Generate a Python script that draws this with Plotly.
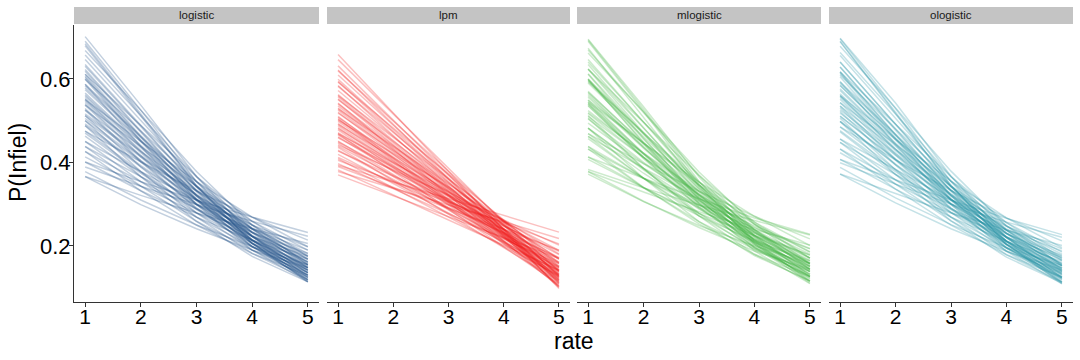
import plotly.graph_objects as go

# ---------------- data ----------------
rates = [1, 2, 3, 4, 5]
lpm_rates = [1, 5]
models = ["logistic", "lpm", "mlogistic", "ologistic"]
y_ticks = [0.2, 0.4, 0.6]
y_ticklabels = ["0.2", "0.4", "0.6"]

# P(Infiel) at rate 1..5 for each posterior draw
logistic_draws = [
    [0.401, 0.354, 0.310, 0.269, 0.232], [0.389, 0.343, 0.299, 0.259, 0.223],
    [0.366, 0.321, 0.279, 0.241, 0.206], [0.475, 0.401, 0.332, 0.269, 0.214],
    [0.450, 0.378, 0.310, 0.250, 0.198], [0.438, 0.366, 0.299, 0.241, 0.190],
    [0.426, 0.354, 0.289, 0.232, 0.182], [0.413, 0.343, 0.279, 0.223, 0.175],
    [0.401, 0.332, 0.269, 0.214, 0.168], [0.378, 0.310, 0.250, 0.198, 0.155],
    [0.366, 0.299, 0.241, 0.190, 0.148], [0.550, 0.450, 0.354, 0.269, 0.198],
    [0.537, 0.438, 0.343, 0.259, 0.190], [0.525, 0.426, 0.332, 0.250, 0.182],
    [0.512, 0.413, 0.321, 0.241, 0.175], [0.500, 0.401, 0.310, 0.232, 0.168],
    [0.505, 0.404, 0.312, 0.234, 0.170], [0.488, 0.389, 0.299, 0.223, 0.161],
    [0.492, 0.392, 0.301, 0.225, 0.163], [0.475, 0.378, 0.289, 0.214, 0.155],
    [0.470, 0.374, 0.287, 0.212, 0.153], [0.463, 0.366, 0.279, 0.206, 0.148],
    [0.450, 0.354, 0.269, 0.198, 0.142], [0.438, 0.343, 0.259, 0.190, 0.136],
    [0.426, 0.332, 0.250, 0.182, 0.130], [0.516, 0.416, 0.323, 0.243, 0.177],
    [0.611, 0.488, 0.366, 0.259, 0.175], [0.599, 0.475, 0.354, 0.250, 0.168],
    [0.587, 0.463, 0.343, 0.241, 0.161], [0.574, 0.450, 0.332, 0.232, 0.155],
    [0.578, 0.453, 0.334, 0.233, 0.156], [0.562, 0.438, 0.321, 0.223, 0.148],
    [0.558, 0.435, 0.319, 0.222, 0.147], [0.550, 0.426, 0.310, 0.214, 0.142],
    [0.553, 0.428, 0.312, 0.215, 0.143], [0.546, 0.423, 0.308, 0.213, 0.141],
    [0.537, 0.413, 0.299, 0.206, 0.136], [0.541, 0.416, 0.301, 0.207, 0.137],
    [0.525, 0.401, 0.289, 0.198, 0.130], [0.512, 0.389, 0.279, 0.190, 0.125],
    [0.500, 0.378, 0.269, 0.182, 0.119], [0.488, 0.366, 0.259, 0.175, 0.114],
    [0.583, 0.460, 0.341, 0.240, 0.160], [0.566, 0.441, 0.323, 0.224, 0.149],
    [0.529, 0.404, 0.291, 0.199, 0.131], [0.668, 0.525, 0.378, 0.250, 0.155],
    [0.657, 0.512, 0.366, 0.241, 0.148], [0.646, 0.500, 0.354, 0.232, 0.142],
    [0.634, 0.488, 0.343, 0.223, 0.136], [0.630, 0.485, 0.341, 0.222, 0.135],
    [0.622, 0.475, 0.332, 0.214, 0.130], [0.618, 0.472, 0.330, 0.213, 0.129],
    [0.611, 0.463, 0.321, 0.206, 0.125], [0.606, 0.460, 0.319, 0.205, 0.124],
    [0.599, 0.450, 0.310, 0.198, 0.119], [0.603, 0.453, 0.312, 0.199, 0.120],
    [0.587, 0.438, 0.299, 0.190, 0.114], [0.701, 0.537, 0.366, 0.223, 0.125],
    [0.690, 0.525, 0.354, 0.214, 0.119], [0.679, 0.512, 0.343, 0.206, 0.114],
    [0.684, 0.516, 0.345, 0.207, 0.115],
]

# linear probability model: straight lines, value at rate 1 and at rate 5
lpm_draws = [
    [0.378, 0.218], [0.393, 0.233], [0.370, 0.170], [0.390, 0.190], [0.405, 0.205],
    [0.382, 0.142], [0.397, 0.157], [0.412, 0.172], [0.427, 0.187], [0.442, 0.202],
    [0.409, 0.129], [0.419, 0.139], [0.429, 0.149], [0.439, 0.159], [0.449, 0.169],
    [0.459, 0.179], [0.469, 0.189], [0.436, 0.116], [0.446, 0.126], [0.451, 0.131],
    [0.461, 0.141], [0.466, 0.146], [0.471, 0.151], [0.481, 0.161], [0.491, 0.171],
    [0.501, 0.181], [0.468, 0.108], [0.478, 0.118], [0.483, 0.123], [0.488, 0.128],
    [0.493, 0.133], [0.498, 0.138], [0.503, 0.143], [0.508, 0.148], [0.518, 0.158],
    [0.528, 0.168], [0.505, 0.105], [0.510, 0.110], [0.520, 0.120], [0.525, 0.125],
    [0.530, 0.130], [0.535, 0.135], [0.540, 0.140], [0.550, 0.150], [0.560, 0.160],
    [0.542, 0.102], [0.552, 0.112], [0.557, 0.117], [0.562, 0.122], [0.572, 0.132],
    [0.582, 0.142], [0.592, 0.152], [0.584, 0.104], [0.594, 0.114], [0.599, 0.119],
    [0.609, 0.129], [0.619, 0.139], [0.621, 0.101], [0.631, 0.111], [0.646, 0.126],
    [0.658, 0.098],
]

mlogistic_draws = [
    [0.413, 0.362, 0.313, 0.267, 0.228], [0.383, 0.339, 0.298, 0.261, 0.226],
    [0.378, 0.329, 0.282, 0.239, 0.202], [0.469, 0.397, 0.331, 0.271, 0.217],
    [0.462, 0.386, 0.313, 0.248, 0.194], [0.432, 0.362, 0.298, 0.243, 0.193],
    [0.438, 0.362, 0.292, 0.230, 0.178], [0.407, 0.339, 0.278, 0.225, 0.178],
    [0.413, 0.340, 0.272, 0.212, 0.164], [0.372, 0.306, 0.249, 0.200, 0.158],
    [0.378, 0.307, 0.244, 0.188, 0.144], [0.544, 0.446, 0.353, 0.271, 0.201],
    [0.549, 0.446, 0.346, 0.257, 0.186], [0.519, 0.422, 0.331, 0.252, 0.185],
    [0.524, 0.421, 0.324, 0.239, 0.171], [0.494, 0.397, 0.309, 0.234, 0.171],
    [0.517, 0.412, 0.315, 0.232, 0.166], [0.482, 0.385, 0.298, 0.225, 0.164],
    [0.504, 0.400, 0.304, 0.223, 0.159], [0.469, 0.374, 0.288, 0.216, 0.158],
    [0.482, 0.382, 0.290, 0.210, 0.149], [0.457, 0.362, 0.278, 0.208, 0.151],
    [0.462, 0.362, 0.272, 0.196, 0.138], [0.432, 0.339, 0.258, 0.192, 0.139],
    [0.438, 0.340, 0.253, 0.180, 0.126], [0.510, 0.412, 0.322, 0.245, 0.180],
    [0.623, 0.496, 0.369, 0.257, 0.171], [0.593, 0.471, 0.353, 0.252, 0.171],
    [0.599, 0.471, 0.346, 0.239, 0.157], [0.568, 0.446, 0.331, 0.234, 0.158],
    [0.590, 0.461, 0.337, 0.231, 0.152], [0.556, 0.434, 0.320, 0.225, 0.151],
    [0.570, 0.443, 0.322, 0.220, 0.143], [0.544, 0.422, 0.309, 0.216, 0.145],
    [0.565, 0.436, 0.315, 0.213, 0.139], [0.540, 0.419, 0.307, 0.215, 0.144],
    [0.549, 0.421, 0.302, 0.204, 0.132], [0.535, 0.412, 0.300, 0.209, 0.140],
    [0.537, 0.409, 0.292, 0.196, 0.126], [0.506, 0.385, 0.278, 0.192, 0.128],
    [0.512, 0.386, 0.272, 0.180, 0.115], [0.482, 0.362, 0.258, 0.177, 0.117],
    [0.595, 0.468, 0.344, 0.238, 0.156], [0.560, 0.437, 0.322, 0.226, 0.152],
    [0.541, 0.412, 0.294, 0.197, 0.127], [0.662, 0.521, 0.377, 0.252, 0.158],
    [0.669, 0.520, 0.369, 0.239, 0.144], [0.640, 0.496, 0.353, 0.234, 0.145],
    [0.646, 0.496, 0.346, 0.221, 0.132], [0.624, 0.481, 0.340, 0.224, 0.138],
    [0.634, 0.483, 0.335, 0.212, 0.126], [0.612, 0.468, 0.329, 0.215, 0.132],
    [0.623, 0.471, 0.324, 0.204, 0.121], [0.600, 0.456, 0.318, 0.207, 0.127],
    [0.611, 0.458, 0.313, 0.196, 0.115], [0.597, 0.449, 0.311, 0.201, 0.123],
    [0.599, 0.446, 0.302, 0.188, 0.110], [0.695, 0.533, 0.365, 0.225, 0.128],
    [0.693, 0.527, 0.355, 0.212, 0.115], [0.673, 0.508, 0.342, 0.208, 0.117],
    [0.690, 0.522, 0.347, 0.205, 0.111],
]

ologistic_draws = [
    [0.407, 0.358, 0.310, 0.266, 0.227], [0.399, 0.348, 0.300, 0.257, 0.221],
    [0.372, 0.325, 0.279, 0.238, 0.201], [0.485, 0.406, 0.333, 0.267, 0.212],
    [0.456, 0.382, 0.310, 0.247, 0.193], [0.448, 0.371, 0.300, 0.239, 0.188],
    [0.432, 0.358, 0.289, 0.229, 0.177], [0.423, 0.348, 0.280, 0.221, 0.173],
    [0.407, 0.336, 0.269, 0.211, 0.163], [0.388, 0.315, 0.251, 0.196, 0.153],
    [0.372, 0.303, 0.241, 0.187, 0.143], [0.560, 0.455, 0.355, 0.267, 0.196],
    [0.543, 0.442, 0.343, 0.256, 0.185], [0.535, 0.431, 0.333, 0.248, 0.180],
    [0.518, 0.417, 0.321, 0.238, 0.170], [0.510, 0.406, 0.311, 0.230, 0.166],
    [0.511, 0.408, 0.312, 0.231, 0.165], [0.498, 0.394, 0.300, 0.221, 0.159],
    [0.498, 0.396, 0.301, 0.222, 0.158], [0.485, 0.383, 0.290, 0.212, 0.153],
    [0.476, 0.378, 0.287, 0.209, 0.148], [0.473, 0.371, 0.280, 0.204, 0.146],
    [0.456, 0.358, 0.269, 0.195, 0.137], [0.448, 0.348, 0.260, 0.188, 0.134],
    [0.432, 0.336, 0.250, 0.179, 0.125], [0.526, 0.421, 0.324, 0.241, 0.175],
    [0.617, 0.492, 0.366, 0.256, 0.170], [0.609, 0.480, 0.355, 0.248, 0.166],
    [0.593, 0.467, 0.343, 0.238, 0.156], [0.584, 0.455, 0.333, 0.230, 0.153],
    [0.584, 0.457, 0.334, 0.230, 0.151], [0.572, 0.443, 0.322, 0.221, 0.146],
    [0.564, 0.439, 0.319, 0.219, 0.142], [0.560, 0.431, 0.311, 0.212, 0.140],
    [0.559, 0.432, 0.312, 0.212, 0.138], [0.556, 0.428, 0.309, 0.211, 0.139],
    [0.543, 0.417, 0.299, 0.203, 0.131], [0.551, 0.421, 0.302, 0.205, 0.135],
    [0.531, 0.405, 0.289, 0.195, 0.125], [0.522, 0.394, 0.280, 0.188, 0.123],
    [0.506, 0.382, 0.269, 0.179, 0.114], [0.498, 0.371, 0.260, 0.173, 0.112],
    [0.589, 0.464, 0.341, 0.237, 0.155], [0.576, 0.446, 0.324, 0.222, 0.147],
    [0.535, 0.408, 0.291, 0.196, 0.126], [0.678, 0.530, 0.379, 0.248, 0.153],
    [0.663, 0.516, 0.366, 0.238, 0.143], [0.656, 0.505, 0.355, 0.230, 0.140],
    [0.640, 0.492, 0.343, 0.220, 0.131], [0.640, 0.490, 0.342, 0.220, 0.133],
    [0.628, 0.479, 0.332, 0.211, 0.125], [0.628, 0.477, 0.331, 0.211, 0.127],
    [0.617, 0.467, 0.321, 0.203, 0.120], [0.616, 0.465, 0.320, 0.203, 0.122],
    [0.605, 0.454, 0.310, 0.195, 0.114], [0.613, 0.458, 0.313, 0.197, 0.118],
    [0.593, 0.442, 0.299, 0.187, 0.109], [0.697, 0.542, 0.367, 0.221, 0.123],
    [0.696, 0.529, 0.354, 0.211, 0.114], [0.689, 0.517, 0.344, 0.204, 0.112],
    [0.690, 0.520, 0.345, 0.204, 0.110],
]

# ---------------- style ----------------
FONT = "Liberation Sans, Arial, sans-serif"
W, H = 1080, 360
panel_px = [(74, 319), (327, 570), (577, 821), (829, 1073)]
plot_top, plot_bottom = 24.5, 301.5
strip_top, strip_bottom = 7, 24
line_rgb = {
    "logistic": (22, 74, 132),
    "lpm": (238, 12, 12),
    "mlogistic": (60, 178, 60),
    "ologistic": (30, 144, 162),
}
alpha = 0.26

panel_data = {
    "logistic": (rates, logistic_draws),
    "lpm": (lpm_rates, lpm_draws),
    "mlogistic": (rates, mlogistic_draws),
    "ologistic": (rates, ologistic_draws),
}

fig = go.Figure()
for i, m in enumerate(models, start=1):
    xs, draws = panel_data[m]
    r, g, b = line_rgb[m]
    for d in draws:
        fig.add_trace(go.Scatter(
            x=xs, y=d, mode="lines",
            line=dict(color=f"rgba({r},{g},{b},{alpha})", width=1.5),
            xaxis=f"x{i}", yaxis=f"y{i}", hoverinfo="skip", showlegend=False,
        ))

ydom = [1 - plot_bottom / H, 1 - plot_top / H]
layout = dict(
    width=W, height=H, margin=dict(l=0, r=0, t=0, b=0, autoexpand=False),
    paper_bgcolor="white", plot_bgcolor="white", showlegend=False,
    font=dict(family=FONT, color="black"),
)
shapes, annotations = [], []
for i, m in enumerate(models, start=1):
    x0, x1 = panel_px[i - 1]
    layout[f"xaxis{i}"] = dict(
        domain=[x0 / W, x1 / W], range=[0.8, 5.2], anchor=f"y{i}",
        tickvals=rates, ticktext=[str(v) for v in rates],
        ticks="outside", ticklen=4, tickwidth=1, tickcolor="#333333",
        showline=True, linecolor="#333333", linewidth=1,
        showgrid=False, zeroline=False, automargin=False,
        ticklabelstandoff=-8,
        tickfont=dict(size=21, color="black", family=FONT),
    )
    yax = dict(domain=ydom, range=[0.067, 0.730], anchor=f"x{i}",
               showgrid=False, zeroline=False, automargin=False)
    if i == 1:
        yax.update(tickvals=y_ticks, ticktext=y_ticklabels, ticks="outside",
                   ticklen=4, tickwidth=1, tickcolor="#333333",
                   showline=True, linecolor="#333333", linewidth=1,
                   ticklabelstandoff=-6,
                   tickfont=dict(size=22, color="black", family=FONT))
    else:
        yax.update(showticklabels=False, ticks="", showline=False)
    layout[f"yaxis{i}"] = yax
    shapes.append(dict(type="rect", xref="paper", yref="paper",
                       x0=x0 / W, x1=x1 / W,
                       y0=1 - strip_bottom / H, y1=1 - strip_top / H,
                       fillcolor="#C4C4C4", line=dict(width=0), layer="below"))
    annotations.append(dict(text=m, xref="paper", yref="paper",
                            x=(x0 + x1) / 2 / W,
                            y=1 - (strip_top + strip_bottom) / 2 / H,
                            showarrow=False, xanchor="center", yanchor="middle",
                            font=dict(size=11.5, color="#1A1A1A", family=FONT)))

annotations.append(dict(text="rate", xref="paper", yref="paper",
                        x=(74 + 1073) / 2 / W, y=1 - 341 / H,
                        showarrow=False, xanchor="center", yanchor="middle",
                        font=dict(size=23, color="black", family=FONT)))
annotations.append(dict(text="P(Infiel)", xref="paper", yref="paper",
                        x=18 / W, y=1 - (plot_top + plot_bottom) / 2 / H,
                        textangle=-90, showarrow=False,
                        xanchor="center", yanchor="middle",
                        font=dict(size=23, color="black", family=FONT)))
layout["shapes"] = shapes
layout["annotations"] = annotations
fig.update_layout(**layout)
fig.write_html(
    "out.html",
    config={"displayModeBar": False},
    post_script="document.body.style.margin='0';document.body.style.padding='0';",
)
